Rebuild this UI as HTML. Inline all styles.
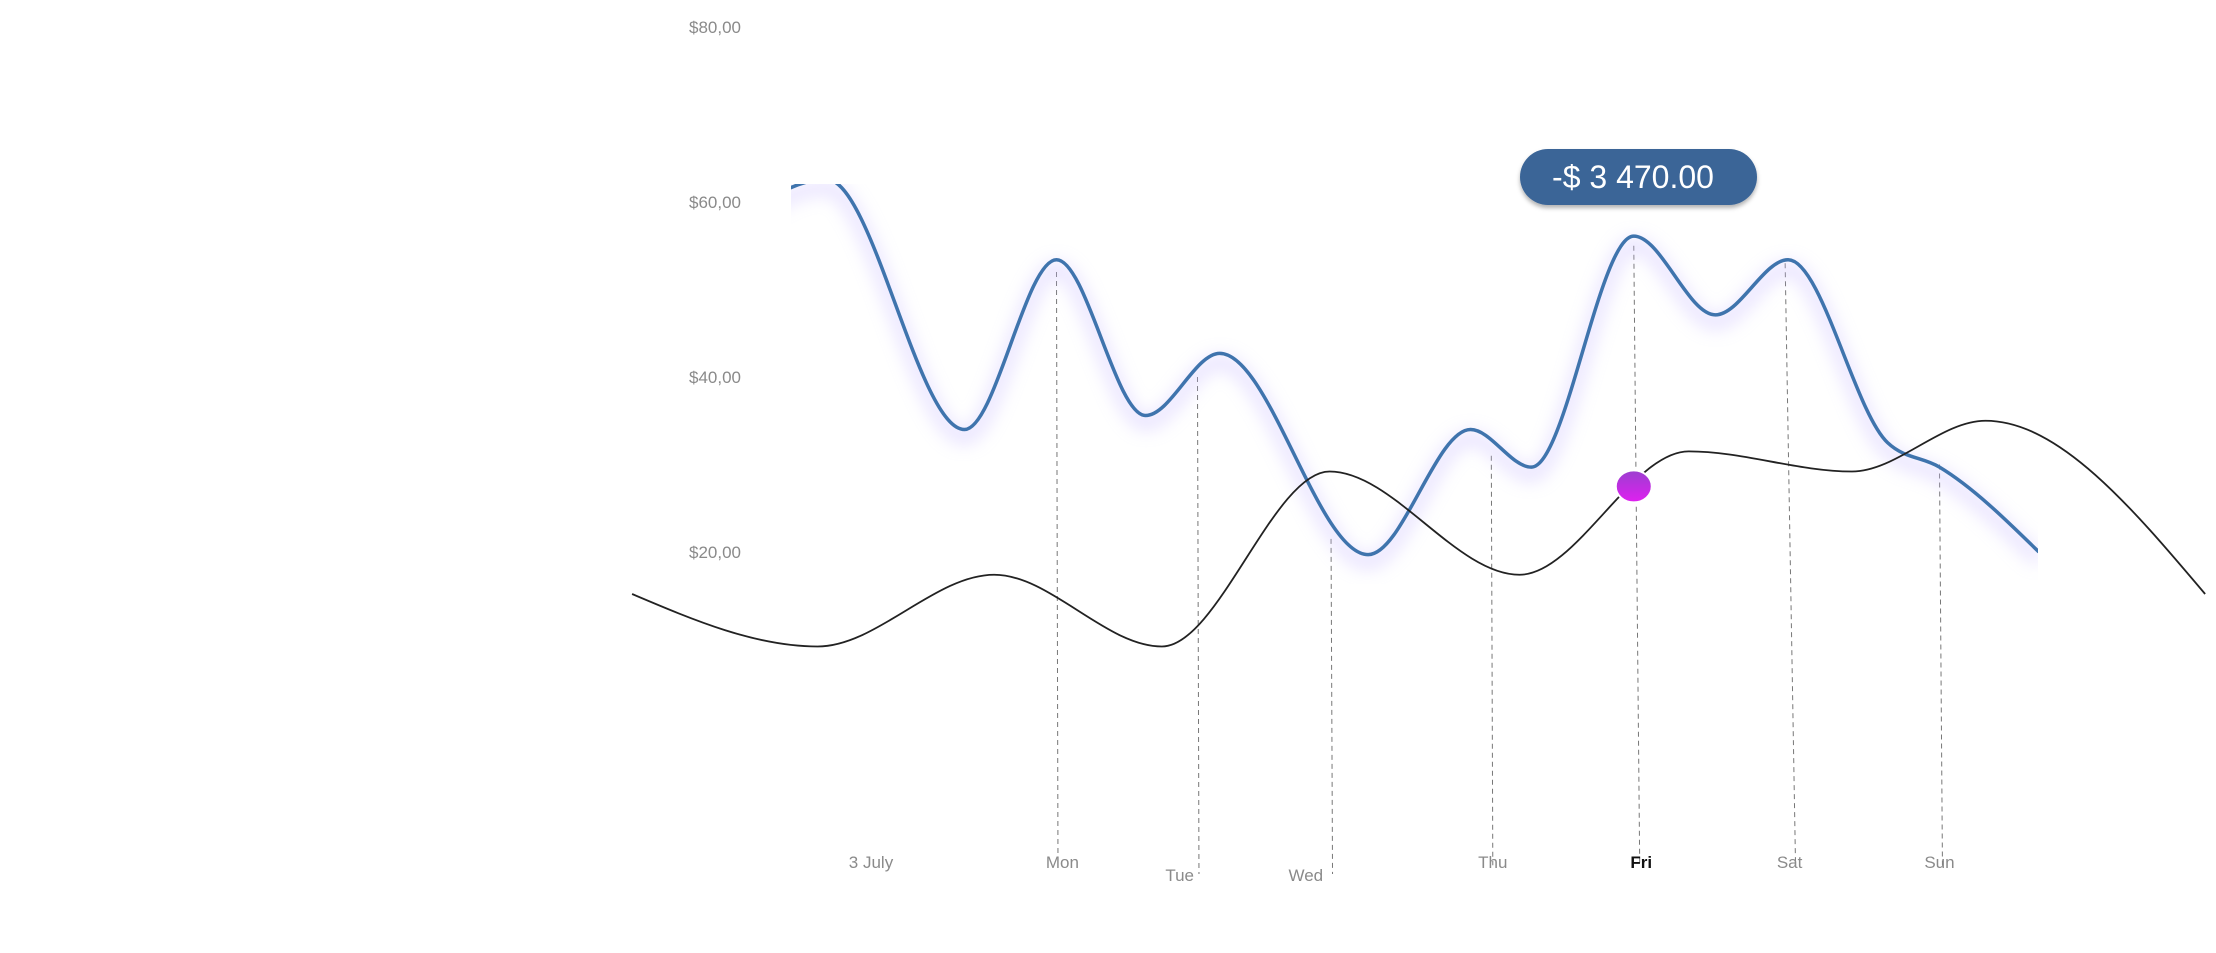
<!DOCTYPE html>
<html><head><meta charset="utf-8"><style>
html,body{margin:0;padding:0;background:#fff;width:2216px;height:953px;overflow:hidden}
svg{display:block}
text{font-family:"Liberation Sans",sans-serif}
</style></head><body>
<svg id="chart" width="2216" height="953" viewBox="0 0 2216 953">
<defs>
<filter id="glow" x="-20%" y="-20%" width="140%" height="160%"><feGaussianBlur stdDeviation="9"/></filter>
<clipPath id="clipBlue"><rect x="791" y="184" width="1247" height="400"/></clipPath>
<linearGradient id="dotGrad" x1="0" y1="0" x2="0" y2="1"><stop offset="0" stop-color="#9b3fcf"/><stop offset="1" stop-color="#e020f0"/></linearGradient>
<filter id="shadow" x="-20%" y="-20%" width="140%" height="160%"><feDropShadow dx="0" dy="3" stdDeviation="2" flood-color="#000" flood-opacity="0.3"/></filter>
</defs>
<g id="yaxis"></g>
<g id="drops"></g>
<g id="series"></g>
<g id="xaxis"></g>
<g filter="url(#shadow)">
<rect x="1520" y="149" width="237" height="56" rx="28" fill="#3a6597"/>
</g>
<text x="1633" y="188" text-anchor="middle" font-size="32" fill="#fff">-$ 3 470.00</text>
</svg>
<script>
const yTicks = [20, 40, 60, 80];
const yTickLabels = ["$20,00", "$40,00", "$60,00", "$80,00"];
const dayLabels = ["3 July", "Mon", "Tue", "Wed", "Thu", "Fri", "Sat", "Sun"];
const dayPos = [0, 1.29, 2.08, 2.93, 4.19, 5.19, 6.19, 7.2];
const dayLabelRow = [0, 0, 1, 1, 0, 0, 0, 0];
const blueT = [-0.9, -0.3, 0.63, 1.25, 1.85, 2.35, 3.35, 4.04, 4.45, 5.14, 5.69, 6.18, 6.85, 7.2, 7.87];
const blueV = [58, 62.6, 34, 53.4, 35.6, 42.7, 19.7, 34, 29.7, 56.1, 47.1, 53.4, 32.5, 29.7, 20];
const blackT = [-1.61, -0.36, 0.83, 1.96, 3.09, 4.37, 5.51, 6.61, 7.51, 8.99];
const blackV = [15.2, 9.2, 17.4, 9.2, 29.2, 17.4, 31.5, 29.2, 35, 15.2];
const dropT = [1.25, 2.2, 3.1, 4.18, 5.14, 6.16, 7.2];
const dropTopV = [52, 40, 21.5, 31, 55, 53, 30];
const dropBottomShift = [0.01, 0.01, 0.01, 0.01, 0.04, 0.07, 0.02];
const dropBottomV = [-15.8, -16.8, -16.8, -15.8, -15.8, -15.8, -15.8];
const highlightT = 5.14, highlightV = 27.5;

const NS = "http://www.w3.org/2000/svg";
const X = t => 871 + t * 148.4;
const Y = v => 727 - v * 8.75;
function mk(tag, attrs, parent){const e=document.createElementNS(NS,tag);for(const k in attrs)e.setAttribute(k,attrs[k]);parent.appendChild(e);return e;}
function smooth(ts, vs){
  const xs=ts.map(X), ys=vs.map(Y), n=xs.length;
  const h=[], s=[];
  for(let i=0;i<n-1;i++){h.push(xs[i+1]-xs[i]); s.push((ys[i+1]-ys[i])/h[i]);}
  const m=new Array(n);
  for(let i=1;i<n-1;i++){
    const s0=s[i-1], s1=s[i];
    if(s0*s1<=0){m[i]=0;continue;}
    const p=(s0*h[i]+s1*h[i-1])/(h[i-1]+h[i]);
    m[i]=(Math.sign(s0)+Math.sign(s1))*Math.min(Math.abs(s0),Math.abs(s1),0.5*Math.abs(p));
  }
  m[0]=(3*s[0]-m[1])/2;
  m[n-1]=(3*s[n-2]-m[n-2])/2;
  let d="M"+xs[0]+","+ys[0];
  for(let i=0;i<n-1;i++){
    const dx=h[i]/3;
    d+=" C"+(xs[i]+dx)+","+(ys[i]+m[i]*dx)+" "+(xs[i+1]-dx)+","+(ys[i+1]-m[i+1]*dx)+" "+xs[i+1]+","+ys[i+1];
  }
  return d;
}
const yaxis=document.getElementById('yaxis');
yTicks.forEach((v,i)=>{
  const t=mk('text',{x:741,y:Y(v)+6,'text-anchor':'end','font-size':17,fill:'#8a8a8a'},yaxis);
  t.textContent=yTickLabels[i];
  
  
});
const drops=document.getElementById('drops');
dropT.forEach((t,i)=>{
  const l=mk('line',{x1:X(t),y1:Y(dropTopV[i]),x2:X(t+dropBottomShift[i]),y2:Y(dropBottomV[i]),stroke:'#777','stroke-width':1,'stroke-dasharray':'5,4'},drops);
  
  
});
const series=document.getElementById('series');
const gb=mk('g',{'clip-path':'url(#clipBlue)'},series);
const glow=mk('path',{d:smooth(blueT,blueV),fill:'none',stroke:'#c9bcff','stroke-width':10,opacity:0.6,filter:'url(#glow)',transform:'translate(0,8)'},gb);


const blue=mk('path',{d:smooth(blueT,blueV),fill:'none',stroke:'#3f74ad','stroke-width':3.5},gb);


const black=mk('path',{d:smooth(blackT,blackV),fill:'none',stroke:'#222','stroke-width':1.8},series);


const dot=mk('ellipse',{cx:X(highlightT),cy:Y(highlightV),rx:18,ry:16,fill:'url(#dotGrad)',stroke:'#fff','stroke-width':2},series);


const xaxis=document.getElementById('xaxis');
dayLabels.forEach((d,i)=>{
  const fri = d==="Fri";
  const t=mk('text',{x:X(dayPos[i]),y:dayLabelRow[i]?881:868,'text-anchor':'middle','font-size':17,fill:fri?'#111':'#8a8a8a','font-weight':fri?'bold':'normal'},xaxis);
  t.textContent=d;
  
  
});
</script>
</body></html>
